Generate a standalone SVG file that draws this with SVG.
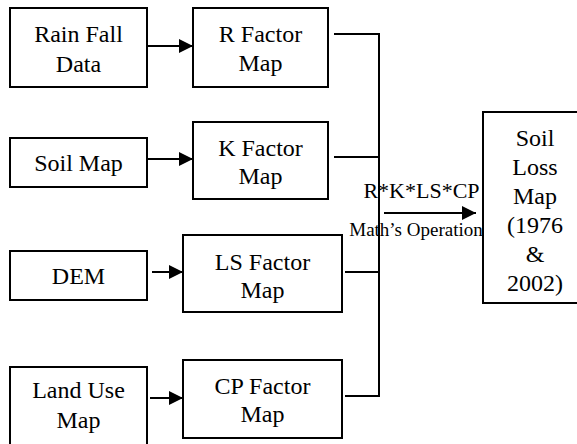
<svg xmlns="http://www.w3.org/2000/svg" width="577" height="444" viewBox="0 0 577 444">
  <style>
    .box { fill: #ffffff; stroke: #000000; stroke-width: 2; }
    .wire { fill: none; stroke: #000000; stroke-width: 2; }
  </style>
  <defs>
    <marker id="head" viewBox="0 0 14 14" refX="14" refY="7" markerWidth="14" markerHeight="14" markerUnits="userSpaceOnUse" orient="auto">
      <path d="M0,0 L14,7 L0,14 Z" fill="#000000"/>
    </marker>
  </defs>
  <rect width="577" height="444" fill="#ffffff"/>

  <!-- input data -->
  <g id="rainfall" font-family="Liberation Serif" font-size="24" text-anchor="middle">
    <rect class="box" x="10" y="8" width="137" height="79"/>
    <text x="78.5" y="42">Rain Fall</text>
    <text x="78.5" y="72">Data</text>
  </g>
  <g id="soilmap" font-family="Liberation Serif" font-size="24" text-anchor="middle">
    <rect class="box" x="10" y="138" width="137" height="49"/>
    <text x="78.5" y="171">Soil Map</text>
  </g>
  <g id="dem" font-family="Liberation Serif" font-size="24" text-anchor="middle">
    <rect class="box" x="10" y="251" width="137" height="49"/>
    <text x="78.5" y="284">DEM</text>
  </g>
  <g id="landuse" font-family="Liberation Serif" font-size="24" text-anchor="middle">
    <rect class="box" x="10" y="367" width="137" height="82"/>
    <text x="78.5" y="398">Land Use</text>
    <text x="78.5" y="428">Map</text>
  </g>

  <!-- factor maps -->
  <g id="rfactor" font-family="Liberation Serif" font-size="24" text-anchor="middle">
    <rect class="box" x="193" y="8" width="135" height="79"/>
    <text x="260.5" y="42">R Factor</text>
    <text x="260.5" y="71">Map</text>
  </g>
  <g id="kfactor" font-family="Liberation Serif" font-size="24" text-anchor="middle">
    <rect class="box" x="193" y="122" width="135" height="77"/>
    <text x="260.5" y="156">K Factor</text>
    <text x="260.5" y="184">Map</text>
  </g>
  <g id="lsfactor" font-family="Liberation Serif" font-size="24" text-anchor="middle">
    <rect class="box" x="183" y="235" width="159" height="77"/>
    <text x="262.5" y="270">LS Factor</text>
    <text x="262.5" y="298">Map</text>
  </g>
  <g id="cpfactor" font-family="Liberation Serif" font-size="24" text-anchor="middle">
    <rect class="box" x="183" y="360" width="159" height="78"/>
    <text x="262.5" y="394">CP Factor</text>
    <text x="262.5" y="422">Map</text>
  </g>

  <!-- result -->
  <g id="soilloss" font-family="Liberation Serif" font-size="24" text-anchor="middle">
    <rect class="box" x="483" y="112" width="110" height="191"/>
    <text x="535" y="146">Soil</text>
    <text x="535" y="175">Loss</text>
    <text x="535" y="204">Map</text>
    <text x="535" y="233">(1976</text>
    <text x="535" y="262">&amp;</text>
    <text x="535" y="291">2002)</text>
  </g>

  <!-- connectors -->
  <g id="connectors">
    <line class="wire" x1="147" y1="46" x2="193" y2="46" marker-end="url(#head)"/>
    <line class="wire" x1="147" y1="159" x2="193" y2="159" marker-end="url(#head)"/>
    <line class="wire" x1="152" y1="272" x2="183" y2="272" marker-end="url(#head)"/>
    <line class="wire" x1="150" y1="398" x2="183" y2="398" marker-end="url(#head)"/>
    <path class="wire" d="M334,34 H379 V396 H345"/>
    <path class="wire" d="M334,157 H379"/>
    <path class="wire" d="M345,272 H379"/>
    <line class="wire" x1="384" y1="213" x2="476" y2="213" marker-end="url(#head)"/>
    <text font-family="Liberation Serif" text-anchor="middle" x="421.5" y="198" font-size="22">R*K*LS*CP</text>
    <text font-family="Liberation Serif" text-anchor="middle" x="416" y="236" font-size="19">Math’s Operation</text>
  </g>
</svg>
